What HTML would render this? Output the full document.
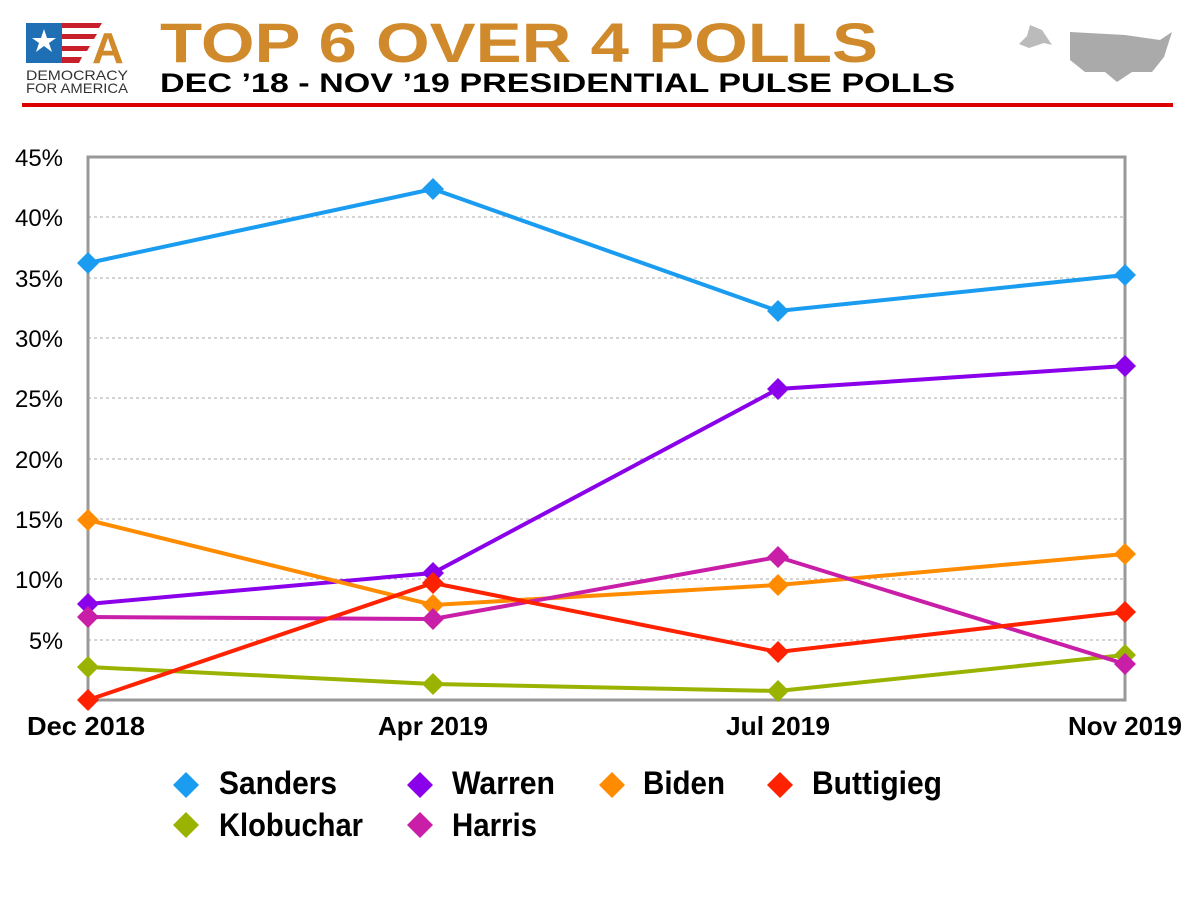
<!DOCTYPE html><html><head><style>body{margin:0;background:#fff;width:1200px;height:900px;overflow:hidden}</style></head><body>
<svg width="1200" height="900" xmlns="http://www.w3.org/2000/svg" font-family="Liberation Sans, sans-serif">
<rect x="26" y="23" width="36" height="40" fill="#1f6fb5"/>
<polygon points="44,29 47,38 56,38 49,43 52,52 44,46 36,52 39,43 32,38 41,38" fill="#fff"/>
<path d="M62 23 h40 l-3 5 h-37z M62 34 h35 l-3 5 h-32z M62 46 h28 l-3 5h-25z M62 57 h20 l-3 6 h-17z" fill="#c8202a"/>
<text x="92" y="63" font-size="44" font-weight="bold" fill="#d08a2b">A</text>
<text x="26" y="80" font-size="14" fill="#333" textLength="102" lengthAdjust="spacingAndGlyphs">DEMOCRACY</text>
<text x="26" y="93" font-size="14" fill="#333" textLength="102" lengthAdjust="spacingAndGlyphs">FOR AMERICA</text>
<text x="160" y="62" font-size="56" font-weight="bold" fill="#d08a2b" textLength="718" lengthAdjust="spacingAndGlyphs">TOP 6 OVER 4 POLLS</text>
<text x="160" y="92" font-size="27" font-weight="bold" fill="#000" textLength="795" lengthAdjust="spacingAndGlyphs">DEC ’18 - NOV ’19 PRESIDENTIAL PULSE POLLS</text>
<path d="M1070 32 l55 3 l35 5 l12 -8 l-8 25 l-12 15 l-20 0 l-15 10 l-12 -10 l-20 0 l-15 -12z" fill="#aaa"/>
<path d="M1030 25 l12 5 l10 15 l-8 -2 l-15 5 l-10 -4 l8 -8z" fill="#bbb"/>
<rect x="22" y="103" width="1151" height="4" fill="#d00"/>
<g stroke="#aaa" stroke-dasharray="3,3" stroke-width="1">
<line x1="88" x2="1125" y1="217" y2="217"/><line x1="88" x2="1125" y1="278" y2="278"/><line x1="88" x2="1125" y1="338" y2="338"/><line x1="88" x2="1125" y1="398" y2="398"/><line x1="88" x2="1125" y1="459" y2="459"/><line x1="88" x2="1125" y1="519" y2="519"/><line x1="88" x2="1125" y1="579" y2="579"/><line x1="88" x2="1125" y1="640" y2="640"/>
</g>
<rect x="88" y="157" width="1037" height="543" fill="none" stroke="#999" stroke-width="3"/>
<g font-size="24" text-anchor="end" fill="#000">
<text x="63" y="166" textLength="48" lengthAdjust="spacingAndGlyphs">45%</text><text x="63" y="226" textLength="48" lengthAdjust="spacingAndGlyphs">40%</text><text x="63" y="287" textLength="48" lengthAdjust="spacingAndGlyphs">35%</text><text x="63" y="347" textLength="48" lengthAdjust="spacingAndGlyphs">30%</text><text x="63" y="407" textLength="48" lengthAdjust="spacingAndGlyphs">25%</text><text x="63" y="468" textLength="48" lengthAdjust="spacingAndGlyphs">20%</text><text x="63" y="528" textLength="48" lengthAdjust="spacingAndGlyphs">15%</text><text x="63" y="588" textLength="48" lengthAdjust="spacingAndGlyphs">10%</text><text x="63" y="649" textLength="34" lengthAdjust="spacingAndGlyphs">5%</text>
</g>
<g font-size="26" font-weight="bold" text-anchor="middle" fill="#000">
<text x="86" y="735" textLength="118" lengthAdjust="spacingAndGlyphs">Dec 2018</text><text x="433" y="735" textLength="110" lengthAdjust="spacingAndGlyphs">Apr 2019</text><text x="778" y="735" textLength="104" lengthAdjust="spacingAndGlyphs">Jul 2019</text><text x="1125" y="735" textLength="114" lengthAdjust="spacingAndGlyphs">Nov 2019</text>
</g>
<defs><path id="d" d="M0 -11 L11 0 L0 11 L-11 0Z"/><path id="L" d="M0 -13 L13 0 L0 13 L-13 0Z"/></defs>
<g fill="none" stroke-width="4">
<polyline stroke="#1a9cf0" points="88,263 433,189 778,311 1125,275"/>
<polyline stroke="#8b00ea" points="88,604 433,573 778,389 1125,366"/>
<polyline stroke="#ff8c00" points="88,520 433,605 778,585 1125,554"/>
<polyline stroke="#9ab300" points="88,667 433,684 778,691 1125,655"/>
<polyline stroke="#c81ea8" points="88,617 433,619 778,557 1125,664"/>
<polyline stroke="#ff2200" points="88,700 433,583 778,652 1125,612"/>
</g>
<g fill="#1a9cf0"><use href="#d" x="88" y="263"/><use href="#d" x="433" y="189"/><use href="#d" x="778" y="311"/><use href="#d" x="1125" y="275"/></g>
<g fill="#8b00ea"><use href="#d" x="88" y="604"/><use href="#d" x="433" y="573"/><use href="#d" x="778" y="389"/><use href="#d" x="1125" y="366"/></g>
<g fill="#ff8c00"><use href="#d" x="88" y="520"/><use href="#d" x="433" y="605"/><use href="#d" x="778" y="585"/><use href="#d" x="1125" y="554"/></g>
<g fill="#9ab300"><use href="#d" x="88" y="667"/><use href="#d" x="433" y="684"/><use href="#d" x="778" y="691"/><use href="#d" x="1125" y="655"/></g>
<g fill="#c81ea8"><use href="#d" x="88" y="617"/><use href="#d" x="433" y="619"/><use href="#d" x="778" y="557"/><use href="#d" x="1125" y="664"/></g>
<g fill="#ff2200"><use href="#d" x="88" y="700"/><use href="#d" x="433" y="583"/><use href="#d" x="778" y="652"/><use href="#d" x="1125" y="612"/></g>
<g font-size="32" font-weight="bold" fill="#000">
<use href="#L" x="186" y="785" fill="#1a9cf0"/><text x="219" y="794" textLength="118" lengthAdjust="spacingAndGlyphs">Sanders</text>
<use href="#L" x="420" y="785" fill="#8b00ea"/><text x="452" y="794" textLength="103" lengthAdjust="spacingAndGlyphs">Warren</text>
<use href="#L" x="612" y="785" fill="#ff8c00"/><text x="643" y="794" textLength="82" lengthAdjust="spacingAndGlyphs">Biden</text>
<use href="#L" x="780" y="785" fill="#ff2200"/><text x="812" y="794" textLength="130" lengthAdjust="spacingAndGlyphs">Buttigieg</text>
<use href="#L" x="186" y="825" fill="#9ab300"/><text x="219" y="836" textLength="144" lengthAdjust="spacingAndGlyphs">Klobuchar</text>
<use href="#L" x="420" y="825" fill="#c81ea8"/><text x="452" y="836" textLength="85" lengthAdjust="spacingAndGlyphs">Harris</text>
</g>
</svg></body></html>
